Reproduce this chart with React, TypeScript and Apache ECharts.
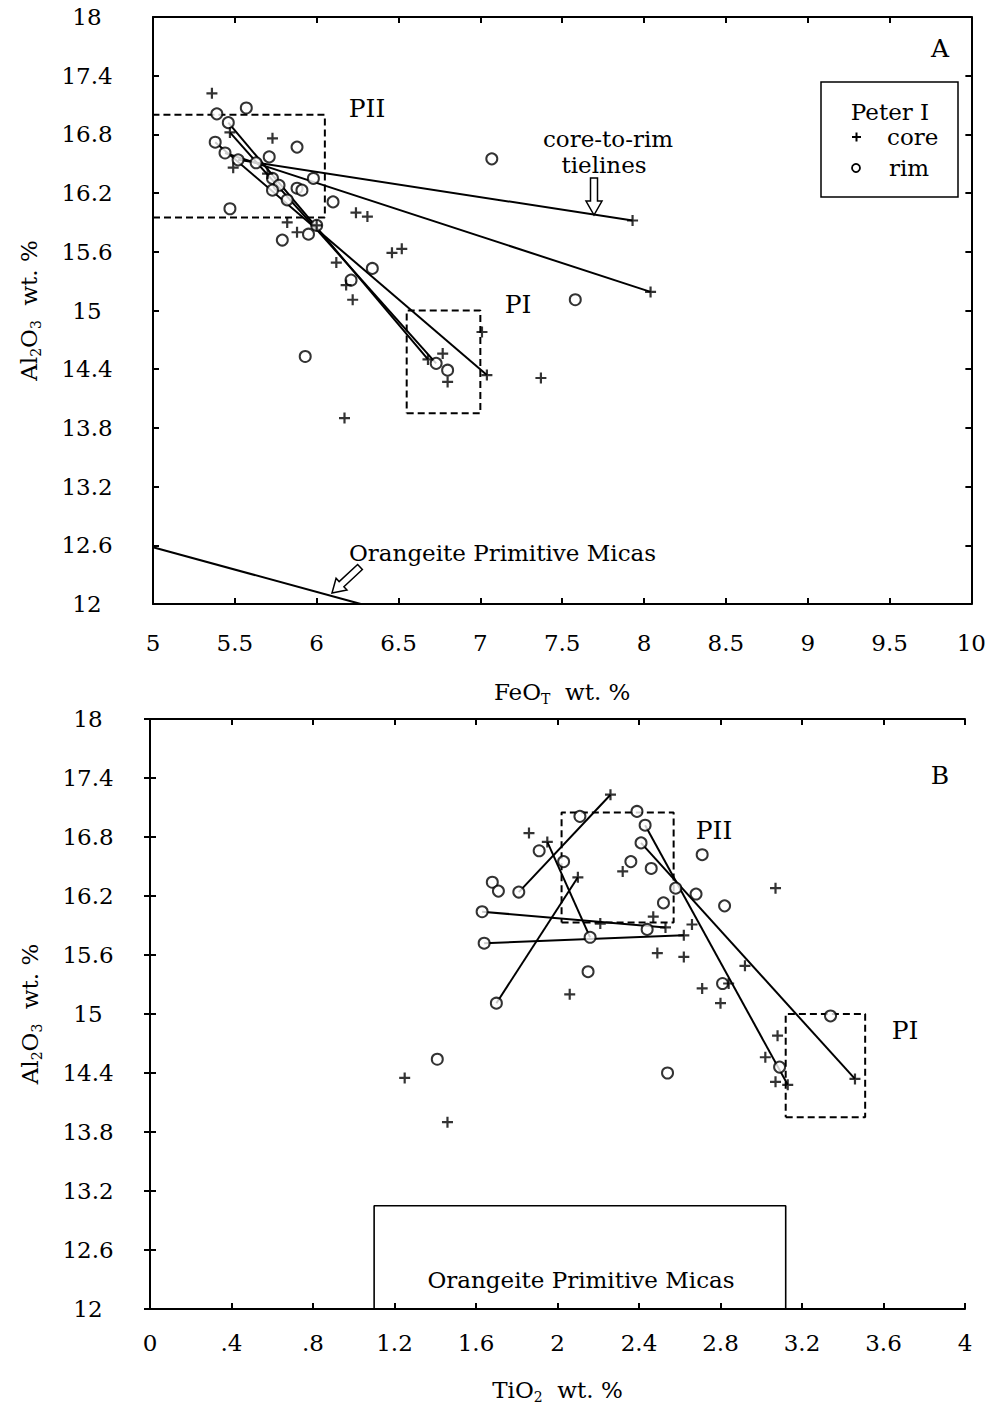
import React, { useEffect, useRef } from "react";
import * as echarts from "echarts";

type Pt = [number, number];

// ---------- Panel A: FeO_T vs Al2O3 (Peter I micas) ----------
const feoCore: Pt[] = [
  [5.36, 17.22], [5.47, 16.82], [5.73, 16.76], [5.49, 16.46], [5.7, 16.4],
  [5.82, 15.9], [5.88, 15.8], [6.0, 15.87], [6.24, 16.0], [6.31, 15.96],
  [6.46, 15.59], [6.52, 15.63], [6.12, 15.49], [6.18, 15.26], [6.22, 15.11],
  [6.17, 13.9], [6.68, 14.5], [6.77, 14.56], [6.8, 14.27], [7.01, 14.78],
  [7.04, 14.34], [7.37, 14.31], [7.93, 15.92], [8.04, 15.19],
];
const feoRim: Pt[] = [
  [5.57, 17.07], [5.39, 17.01], [5.46, 16.92], [5.38, 16.72], [5.44, 16.61],
  [5.52, 16.54], [5.88, 16.67], [5.71, 16.57], [5.63, 16.51], [5.98, 16.35],
  [5.73, 16.35], [5.77, 16.28], [5.73, 16.23], [5.88, 16.25], [5.91, 16.23],
  [5.82, 16.13], [6.1, 16.11], [5.47, 16.04], [6.0, 15.87], [5.95, 15.78],
  [5.79, 15.72], [6.34, 15.43], [6.21, 15.31], [5.93, 14.53], [6.73, 14.46],
  [6.8, 14.39], [7.07, 16.55], [7.58, 15.11],
];
// core-to-rim tielines (pairs of grain analyses)
const feoTielines: [Pt, Pt][] = [
  [[5.52, 16.54], [7.93, 15.92]],
  [[5.44, 16.61], [8.04, 15.19]],
  [[5.46, 16.92], [6.68, 14.5]],
  [[5.47, 16.82], [6.73, 14.46]],
  [[5.38, 16.72], [7.04, 14.34]],
];
// group fields: [xMin, xMax, yMin, yMax]
const feoFieldPII = [5, 6.05, 15.95, 17.0];
const feoFieldPI = [6.55, 7.0, 13.95, 15.0];
const feoOrangeite: Pt[] = [[5, 12.58], [6.27, 12.0]];
const feoTickLabels = ["5", "5.5", "6", "6.5", "7", "7.5", "8", "8.5", "9", "9.5", "10"];

// ---------- Panel B: TiO2 vs Al2O3 ----------
const tiCore: Pt[] = [
  [2.26, 17.23], [1.86, 16.84], [1.95, 16.75], [2.1, 16.39], [2.32, 16.45],
  [2.21, 15.92], [2.47, 15.99], [2.53, 15.88], [2.62, 15.8], [2.66, 15.91],
  [3.07, 16.28], [2.49, 15.62], [2.62, 15.58], [2.92, 15.49], [2.84, 15.31],
  [2.71, 15.26], [2.8, 15.11], [3.08, 14.78], [3.02, 14.56], [3.07, 14.31],
  [3.13, 14.28], [3.46, 14.34], [2.06, 15.2], [1.25, 14.35], [1.46, 13.9],
];
const tiRim: Pt[] = [
  [2.11, 17.01], [2.39, 17.06], [2.43, 16.92], [2.41, 16.74], [2.36, 16.55],
  [2.46, 16.48], [1.91, 16.66], [2.03, 16.55], [1.68, 16.34], [1.71, 16.25],
  [1.81, 16.24], [1.63, 16.04], [2.58, 16.28], [2.52, 16.13], [2.44, 15.86],
  [2.16, 15.78], [1.64, 15.72], [2.71, 16.62], [2.68, 16.22], [2.82, 16.1],
  [2.81, 15.31], [3.34, 14.98], [2.54, 14.4], [3.09, 14.46], [2.15, 15.43],
  [1.41, 14.54], [1.7, 15.11],
];
const tiTielines: [Pt, Pt][] = [
  [[1.81, 16.24], [2.26, 17.23]],
  [[1.95, 16.75], [2.16, 15.78]],
  [[2.1, 16.39], [1.7, 15.11]],
  [[1.63, 16.04], [2.53, 15.88]],
  [[1.64, 15.72], [2.62, 15.8]],
  [[2.43, 16.92], [3.13, 14.28]],
  [[2.41, 16.74], [3.46, 14.34]],
];
const tiFieldPII = [2.02, 2.57, 15.93, 17.05];
const tiFieldPI = [3.12, 3.51, 13.95, 15.0];
const tiOrangeite = [1.1, 3.12, 12.0, 13.05];
const tiTickLabels = ["0", ".4", ".8", "1.2", "1.6", "2", "2.4", "2.8", "3.2", "3.6", "4"];

const alTickLabels = ["12", "12.6", "13.2", "13.8", "14.4", "15", "15.6", "16.2", "16.8", "17.4", "18"];

const FONT = '"DejaVu Serif", "Liberation Serif", serif';
const INK = "#000";
const PLUS = "path://M4,0H6V4H10V6H6V10H4V6H0V4H4Z";

function boxPath(b: number[]): Pt[] {
  const [x0, x1, y0, y1] = b;
  return [[x0, y0], [x1, y0], [x1, y1], [x0, y1], [x0, y0]];
}

// outline arrow polygon from tail t to tip p (pixel space)
function hollowArrow(t: Pt, p: Pt, w = 3.5, h = 8, l = 13): number[][] {
  const dx = p[0] - t[0];
  const dy = p[1] - t[1];
  const len = Math.hypot(dx, dy);
  const ux = dx / len, uy = dy / len;
  const nx = -uy, ny = ux;
  const bx = p[0] - ux * l, by = p[1] - uy * l;
  return [
    [t[0] + nx * w, t[1] + ny * w],
    [bx + nx * w, by + ny * w],
    [bx + nx * h, by + ny * h],
    [p[0], p[1]],
    [bx - nx * h, by - ny * h],
    [bx - nx * w, by - ny * w],
    [t[0] - nx * w, t[1] - ny * w],
  ];
}

const nameRich = {
  a: { fontSize: 23, fontFamily: FONT, color: INK, lineHeight: 28 },
  s: { fontSize: 14, fontFamily: FONT, color: INK, lineHeight: 14, verticalAlign: "bottom" },
};

function xAxes(grid: number, min: number, max: number, interval: number, labels: string[], name: string, nameGap: number, margin: number) {
  const line = { lineStyle: { color: INK, width: 2 } };
  const tick = { inside: true, length: 6, lineStyle: { color: INK, width: 2 } };
  return [
    {
      type: "value", gridIndex: grid, min, max, interval, position: "bottom",
      axisLine: line, axisTick: tick, splitLine: { show: false },
      axisLabel: {
        color: INK, fontSize: 23, fontFamily: FONT, margin,
        formatter: (_v: number, i: number) => labels[i] ?? "",
      },
      name, nameLocation: "middle", nameGap, nameTextStyle: { rich: nameRich },
    },
    {
      type: "value", gridIndex: grid, min, max, interval, position: "top",
      axisLine: line, axisTick: tick, splitLine: { show: false }, axisLabel: { show: false },
    },
  ];
}

function yAxes(grid: number, margin: number, nameGap: number) {
  const line = { lineStyle: { color: INK, width: 2 } };
  const tick = { inside: true, length: 6, lineStyle: { color: INK, width: 2 } };
  return [
    {
      type: "value", gridIndex: grid, min: 12, max: 18, interval: 0.6, position: "left",
      axisLine: line, axisTick: tick, splitLine: { show: false },
      axisLabel: {
        color: INK, fontSize: 23, fontFamily: FONT, margin, align: "center",
        padding: [10, 0, 0, 0],
        formatter: (_v: number, i: number) => alTickLabels[i] ?? "",
      },
      name: "{a|Al}{s|2}{a|O}{s|3}{a|  wt. %}", nameLocation: "middle", nameGap, nameRotate: 90,
      nameTextStyle: { rich: nameRich },
    },
    {
      type: "value", gridIndex: grid, min: 12, max: 18, interval: 0.6, position: "right",
      axisLine: line, axisTick: tick, splitLine: { show: false }, axisLabel: { show: false },
    },
  ];
}

function panelSeries(ax: number, core: Pt[], rim: Pt[], ties: [Pt, Pt][], fields: number[][]) {
  const base = { xAxisIndex: ax, yAxisIndex: ax, silent: true };
  const out: any[] = [];
  ties.forEach((t) => {
    out.push({
      ...base, type: "line", data: t, symbol: "none", z: 3,
      lineStyle: { color: INK, width: 2 },
    });
  });
  fields.forEach((f) => {
    out.push({
      ...base, type: "line", data: boxPath(f), symbol: "none", z: 2,
      lineStyle: { color: INK, width: 2, type: [7, 4] },
    });
  });
  out.push({
    ...base, type: "scatter", name: "rim", data: rim, symbol: "circle", symbolSize: 11, z: 4,
    itemStyle: { color: "#fff", borderColor: INK, borderWidth: 2 },
  });
  out.push({
    ...base, type: "scatter", name: "core", data: core, symbol: PLUS, symbolSize: 11, z: 5,
    itemStyle: { color: INK },
  });
  return out;
}

function txt(text: string, x: number, y: number, size = 23, align = "center") {
  return {
    type: "text", x, y, silent: true,
    style: {
      text, fill: INK, fontSize: size, fontFamily: FONT,
      align, verticalAlign: "middle", textAlign: align, textVerticalAlign: "middle",
    },
  };
}

export default function App() {
  const ref = useRef<HTMLDivElement>(null);

  useEffect(() => {
    if (!ref.current) return;
    const chart = echarts.init(ref.current, undefined, { renderer: "svg" });

    const series = [
      ...panelSeries(0, feoCore, feoRim, feoTielines, [feoFieldPII, feoFieldPI]),
      {
        type: "line", xAxisIndex: 0, yAxisIndex: 0, data: feoOrangeite, symbol: "none", silent: true,
        lineStyle: { color: INK, width: 2 },
      },
      ...panelSeries(2, tiCore, tiRim, tiTielines, [tiFieldPII, tiFieldPI]),
      {
        type: "line", xAxisIndex: 2, yAxisIndex: 2, data: boxPath(tiOrangeite), symbol: "none", silent: true,
        lineStyle: { color: INK, width: 1.6 },
      },
    ];

    const graphic: any[] = [
      txt("A", 940, 48, 25),
      txt("PII", 367, 108, 25),
      txt("PI", 518, 304, 25),
      txt("core-to-rim", 608, 139),
      txt("tielines", 604, 165),
      {
        type: "polygon", silent: true,
        shape: { points: hollowArrow([594, 178], [594, 215], 3.5, 8, 14) },
        style: { fill: "#fff", stroke: INK, lineWidth: 1.5 },
      },
      txt("Orangeite Primitive Micas", 349, 553, 23, "left"),
      {
        type: "polygon", silent: true,
        shape: { points: hollowArrow([360, 567], [332, 593], 3.5, 8, 13) },
        style: { fill: "#fff", stroke: INK, lineWidth: 1.5 },
      },
      // legend
      {
        type: "rect", silent: true,
        shape: { x: 821, y: 82, width: 137, height: 115 },
        style: { fill: "#fff", stroke: INK, lineWidth: 1.5 },
      },
      txt("Peter I", 890, 112, 23),
      { type: "rect", silent: true, shape: { x: 852, y: 136, width: 9, height: 2 }, style: { fill: INK } },
      { type: "rect", silent: true, shape: { x: 855.5, y: 132.5, width: 2, height: 9 }, style: { fill: INK } },
      txt("core", 887, 137, 23, "left"),
      {
        type: "circle", silent: true, shape: { cx: 856, cy: 168, r: 4 },
        style: { fill: "#fff", stroke: INK, lineWidth: 1.8 },
      },
      txt("rim", 889, 168, 23, "left"),
      // panel B annotations
      txt("B", 940, 775, 25),
      txt("PII", 714, 830, 25),
      txt("PI", 905, 1030, 25),
      txt("Orangeite Primitive Micas", 581, 1280, 23),
    ];

    chart.setOption({
      animation: false,
      backgroundColor: "#fff",
      textStyle: { fontFamily: FONT, color: INK },
      grid: [
        { left: 153, top: 17, width: 820, height: 587 },
        { left: 150, top: 719, width: 815, height: 590 },
      ],
      xAxis: [
        ...xAxes(0, 5, 10, 0.5, feoTickLabels, "{a|FeO}{s|T}{a|  wt. %}", 74, 27),
        ...xAxes(1, 0, 4, 0.4, tiTickLabels, "{a|TiO}{s|2}{a|  wt. %}", 67, 22),
      ],
      yAxis: [...yAxes(0, 66, 110), ...yAxes(1, 62, 106)],
      series,
      graphic,
    });

    return () => chart.dispose();
  }, []);

  return (
    <div
      ref={ref}
      style={{ position: "absolute", left: 0, top: 0, width: 989, height: 1406, background: "#fff" }}
    />
  );
}
